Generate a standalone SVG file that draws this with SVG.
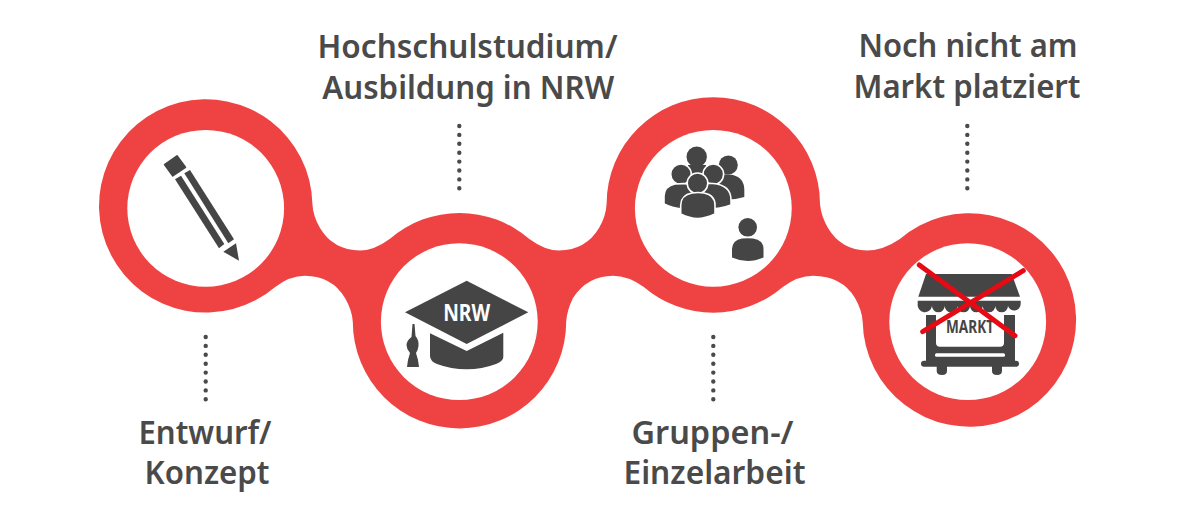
<svg xmlns="http://www.w3.org/2000/svg" width="1200" height="513" viewBox="0 0 1200 513">
<style>
.lbl{font-family:"Noto Sans","Open Sans",sans-serif;font-weight:600;font-size:33px;fill:#4a4a4a;text-anchor:middle}
.in{fill:#fff}
.ic{fill:#454545}
.head{fill:#454545;stroke:#fff;stroke-width:1.6}
.body{fill:#454545;stroke:#fff;stroke-width:1.6}
.dots{fill:none;stroke:#4a4a4a;stroke-width:4.4;stroke-linecap:round;stroke-dasharray:0 8.9}
</style>
<rect width="1200" height="513" fill="#fff"/>
<path id="band" fill="#ef4343" d="M312.4 203.9Q313 216 320 228Q333 250 360 250.5Q374 250.5 390 238.7A106.7 106.7 0 0 1 529 238.7Q545 250.5 559 250.5Q586 250 599 228Q606 216 606.6 203.9A106.7 106.7 0 0 1 820 203.9Q821 216 828 228Q841 250 867 250.5Q883 250.5 899.9 239A106.7 106.7 0 1 1 862.7 322Q862 310 855 298Q842 276 813 275.7Q798 275.7 782.8 286.9A106.7 106.7 0 0 1 643.8 286.9Q628 275.7 613 275.7Q587 276 573 298Q567 310 566.2 321.7A106.7 106.7 0 0 1 352.8 321.7Q352 310 345 298Q332 276 305 275.7Q290 275.7 275.2 286.9A106.7 106.7 0 1 1 312.4 203.9Z"/>
<g id="connectors">
<path class="dots" d="M205.7 337V400"/>
<path class="dots" d="M459.3 126V189"/>
<path class="dots" d="M713.3 337V400"/>
<path class="dots" d="M967.3 126V189"/>
</g>
<g id="node-entwurf">
<circle class="in" cx="205.7" cy="208.3" r="78.4"/>
<path class="ic" stroke="#454545" stroke-width="1.5" stroke-linejoin="round" d="M164.5 164.5L177 155.8L185.5 167.3L172.8 176Z"/>
<path class="ic" d="M175 179.3L181 175.7L224.3 244L219 248.3Z"/>
<path class="ic" d="M184.3 173.3L190 170L234 239.3L228.3 243.3Z"/>
<path class="ic" d="M223.3 251.7L236 243.3L239 260.7Z"/>
<text class="lbl" x="205" y="443.5" textLength="133" lengthAdjust="spacingAndGlyphs">Entwurf/</text>
<text class="lbl" x="207" y="484" textLength="125" lengthAdjust="spacingAndGlyphs">Konzept</text>
</g>
<g id="node-ausbildung">
<circle class="in" cx="459.3" cy="321.7" r="78.4"/>
<path class="ic" d="M405 312.3L466.7 280.7L528.3 312.3L466.7 344Z"/>
<path class="ic" d="M430 333.3L466.7 351L503.3 332.7V357Q503.3 361 496 364Q482 369.3 466.7 369.3Q451 369.3 437 364Q430 361 430 356Z"/>
<path class="ic" d="M412.5 324L414.5 324L415.5 336Q419 340 418.5 346Q418 350 416 353Q418.5 360 419 367H407Q407.5 360 410 353Q406.5 349 406.5 345Q407 340 411.5 337Z"/>
<text x="466.7" y="320.7" font-family="'Noto Sans',sans-serif" font-weight="700" font-size="24" fill="#fff" text-anchor="middle" textLength="47" lengthAdjust="spacingAndGlyphs">NRW</text>
<text class="lbl" x="467.5" y="57.5" textLength="300" lengthAdjust="spacingAndGlyphs">Hochschulstudium/</text>
<text class="lbl" x="468.3" y="99" textLength="292" lengthAdjust="spacingAndGlyphs">Ausbildung in NRW</text>
</g>
<g id="node-gruppen">
<circle class="in" cx="713.3" cy="208.3" r="78.4"/>
<rect class="ic" x="688" y="165" width="18" height="12"/>
<circle class="ic" cx="696.7" cy="156.7" r="10.2"/>
<circle class="ic" cx="728.3" cy="165" r="9.5"/>
<path class="ic" d="M720 174.5Q726 174 733 175Q744.3 178 744.3 190V197Q735 199.5 728 199.5H715Z"/>
<circle class="head" cx="713.3" cy="174.3" r="10.3"/>
<path class="body" d="M698 193V184.5Q704 183 713 183.5Q731 185 731 200V205Q720 209 708 209H698Z"/>
<circle class="head" cx="681" cy="174.3" r="10.3"/>
<path class="body" d="M664 204V196Q664.5 186 675 184Q688 183 696 185L700 209H682Q672 208 664 204Z"/>
<circle class="head" cx="697.5" cy="183.3" r="10.3"/>
<path class="body" d="M680.7 214V205Q681 195 692 193Q698 192 704 193Q715 195 715 205V214Q705 218.5 697.5 218.5Q690 218.5 680.7 214Z"/>
<circle class="ic" cx="747.7" cy="227.3" r="9.3"/>
<path class="ic" d="M732 257.5V249Q732.5 240 742 238.5Q748 238 753 238.5Q763.5 240 763.5 249V257.5Q755 261 747.7 261Q740 261 732 257.5Z"/>
<text class="lbl" x="712.5" y="443.5" textLength="162" lengthAdjust="spacingAndGlyphs">Gruppen-/</text>
<text class="lbl" x="714.5" y="484" textLength="182" lengthAdjust="spacingAndGlyphs">Einzelarbeit</text>
</g>
<g id="node-markt">
<circle class="in" cx="967.7" cy="321.7" r="78.4"/>
<path class="ic" d="M926 274H1011.7L1020 296.7H918.3Z"/>
<path class="ic" d="M917.7 300.7H1020.7V304A6.5 6.5 0 0 1 1008 306A6.3 6.3 0 0 1 995.3 306A6.3 6.3 0 0 1 982.7 306A6.3 6.3 0 0 1 970 306A6.3 6.3 0 0 1 957.3 306A6.3 6.3 0 0 1 944.7 306A6.3 6.3 0 0 1 932 306A7 7 0 0 1 917.7 304Z"/>
<path class="ic" d="M926 315H936V343Q936 346.7 940 346.7H1000Q1004 346.7 1004 343V315H1015V360.7H1016A3 3 0 0 1 1016 366.7H1002V371Q1002 375 997 375Q992 375 992 371V366.7H947V371Q947 375 942 375Q936.7 375 936.7 371V366.7H924A3 3 0 0 1 924 360.7H926Z"/>
<rect x="935" y="353.3" width="70" height="3.4" rx="1.5" fill="#fff"/>
<text x="970" y="333.3" font-family="'Noto Sans',sans-serif" font-weight="700" font-size="17" fill="#454545" text-anchor="middle" textLength="48" lengthAdjust="spacingAndGlyphs">MARKT</text>
<path d="M919.3 265L1015 335.7M1023.3 270.7L922.7 331.7" fill="none" stroke="#e60a14" stroke-width="5" stroke-linecap="round"/>
<text class="lbl" x="968" y="57" textLength="219" lengthAdjust="spacingAndGlyphs">Noch nicht am</text>
<text class="lbl" x="967" y="98" textLength="227" lengthAdjust="spacingAndGlyphs">Markt platziert</text>
</g>
</svg>
